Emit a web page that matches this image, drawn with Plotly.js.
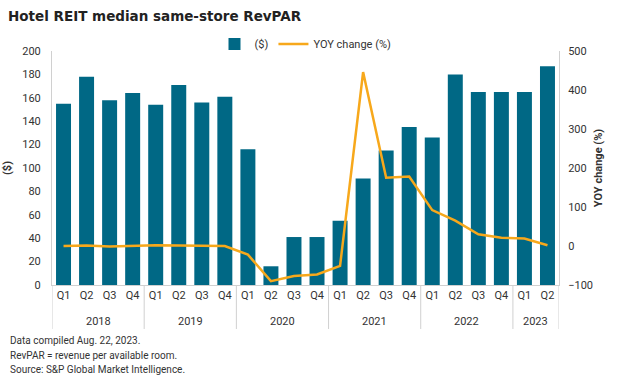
<!DOCTYPE html>
<html>
<head>
<meta charset="utf-8">
<script src="https://cdn.plot.ly/plotly-3.0.1.min.js"></script>
<style>html,body{margin:0;padding:0;background:#fff;}#chart{width:640px;height:383px;}</style>
</head>
<body>
<div id="chart"></div>
<script>
const years = ["2018","2018","2018","2018","2019","2019","2019","2019","2020","2020","2020","2020","2021","2021","2021","2021","2022","2022","2022","2022","2023","2023"];
const quarters = ["Q1","Q2","Q3","Q4","Q1","Q2","Q3","Q4","Q1","Q2","Q3","Q4","Q1","Q2","Q3","Q4","Q1","Q2","Q3","Q4","Q1","Q2"];
const revpar = [155,178,158,164,154,171,156,161,116,16,41,41,55,91,115,135,126,180,165,165,165,187];
const yoy = [0,1,-1,1,2,1,0,0,-22,-90,-77,-73,-51,446,175,178,92,65,30,21,19,2];
const footnotes = ["Data compiled Aug. 22, 2023.","RevPAR = revenue per available room.","Source: S&P Global Market Intelligence."];

const FONT = "Roboto, 'Liberation Sans', sans-serif";
const TXT = "#333333";
const DIV = "#d0d0d0";

const cats = years.map((y,i)=> y + " " + quarters[i]);

const traces = [
  {type:"bar", name:"($)", x:cats, y:revpar, marker:{color:"#006885"}, yaxis:"y"},
  {type:"scatter", mode:"lines", name:"YOY change (%)", x:cats, y:yoy, yaxis:"y2",
   line:{color:"#F7A81B", width:2.5}}
];

const groups = [];
years.forEach((y,i)=>{
  if(!groups.length || groups[groups.length-1].year !== y) groups.push({year:y, start:i, end:i});
  else groups[groups.length-1].end = i;
});
const shapes = [];
groups.forEach(g=>{
  shapes.push({type:"line", xref:"x", yref:"paper", x0:g.start-0.5, x1:g.start-0.5, y0:0, y1:-0.188, line:{color:DIV, width:1}});
});
const lastG = groups[groups.length-1];
shapes.push({type:"line", xref:"x", yref:"paper", x0:lastG.end+0.5, x1:lastG.end+0.5, y0:0, y1:-0.188, line:{color:DIV, width:1}});

const footY = [-0.239, -0.303, -0.363];
const annotations = footnotes.map((t,i)=>({
  text:t, xref:"paper", yref:"paper", x:-0.087, y:footY[i], xanchor:"left", yanchor:"middle",
  showarrow:false, font:{family:FONT, size:10, color:TXT}
})).concat(groups.map(g=>({
  text:g.year, xref:"x", yref:"paper", x:(g.start+g.end)/2, y:-0.158, xanchor:"center", yanchor:"middle",
  showarrow:false, font:{family:FONT, size:11, color:TXT}
})));

const layout = {
  width:640, height:383,
  margin:{l:52, r:81, t:51, b:98},
  paper_bgcolor:"#fff", plot_bgcolor:"#fff",
  font:{family:FONT, size:11, color:TXT},
  title:{text:"<b>Hotel REIT median same-store RevPAR</b>", xref:"container", yref:"container",
         x:8/640, xanchor:"left", y:1-16/383, yanchor:"middle", font:{family:"DejaVu Sans", size:13.5, color:"#222"}},
  bargap:0.35,
  showlegend:true,
  legend:{orientation:"h", x:0.5, xanchor:"center", y:1.03, yanchor:"middle", font:{size:11, color:TXT}, bgcolor:"rgba(0,0,0,0)"},
  xaxis:{type:"category", tickvals:cats, ticktext:quarters, showline:true, linecolor:DIV, linewidth:1, showgrid:false,
         ticks:"", tickangle:0, tickfont:{size:11, color:TXT}, range:[-0.5, cats.length-0.5]},
  yaxis:{range:[0,200], dtick:20, showgrid:false, zeroline:false, showline:true, linecolor:DIV,
         ticks:"", ticklabelstandoff:8, tickfont:{size:11, color:TXT},
         title:{text:"<b>($)</b>", font:{size:11, color:TXT}, standoff:8}},
  yaxis2:{range:[-100,500], dtick:100, overlaying:"y", side:"right", showgrid:false, zeroline:false,
          showline:true, linecolor:DIV, ticks:"", ticklabelstandoff:6, tickfont:{size:11, color:TXT},
          title:{text:"<b>YOY change (%)</b>", font:{size:11, color:TXT}, standoff:2}},
  shapes:shapes,
  annotations:annotations
};

Plotly.newPlot("chart", traces, layout, {displayModeBar:false, staticPlot:true});
</script>
</body>
</html>
